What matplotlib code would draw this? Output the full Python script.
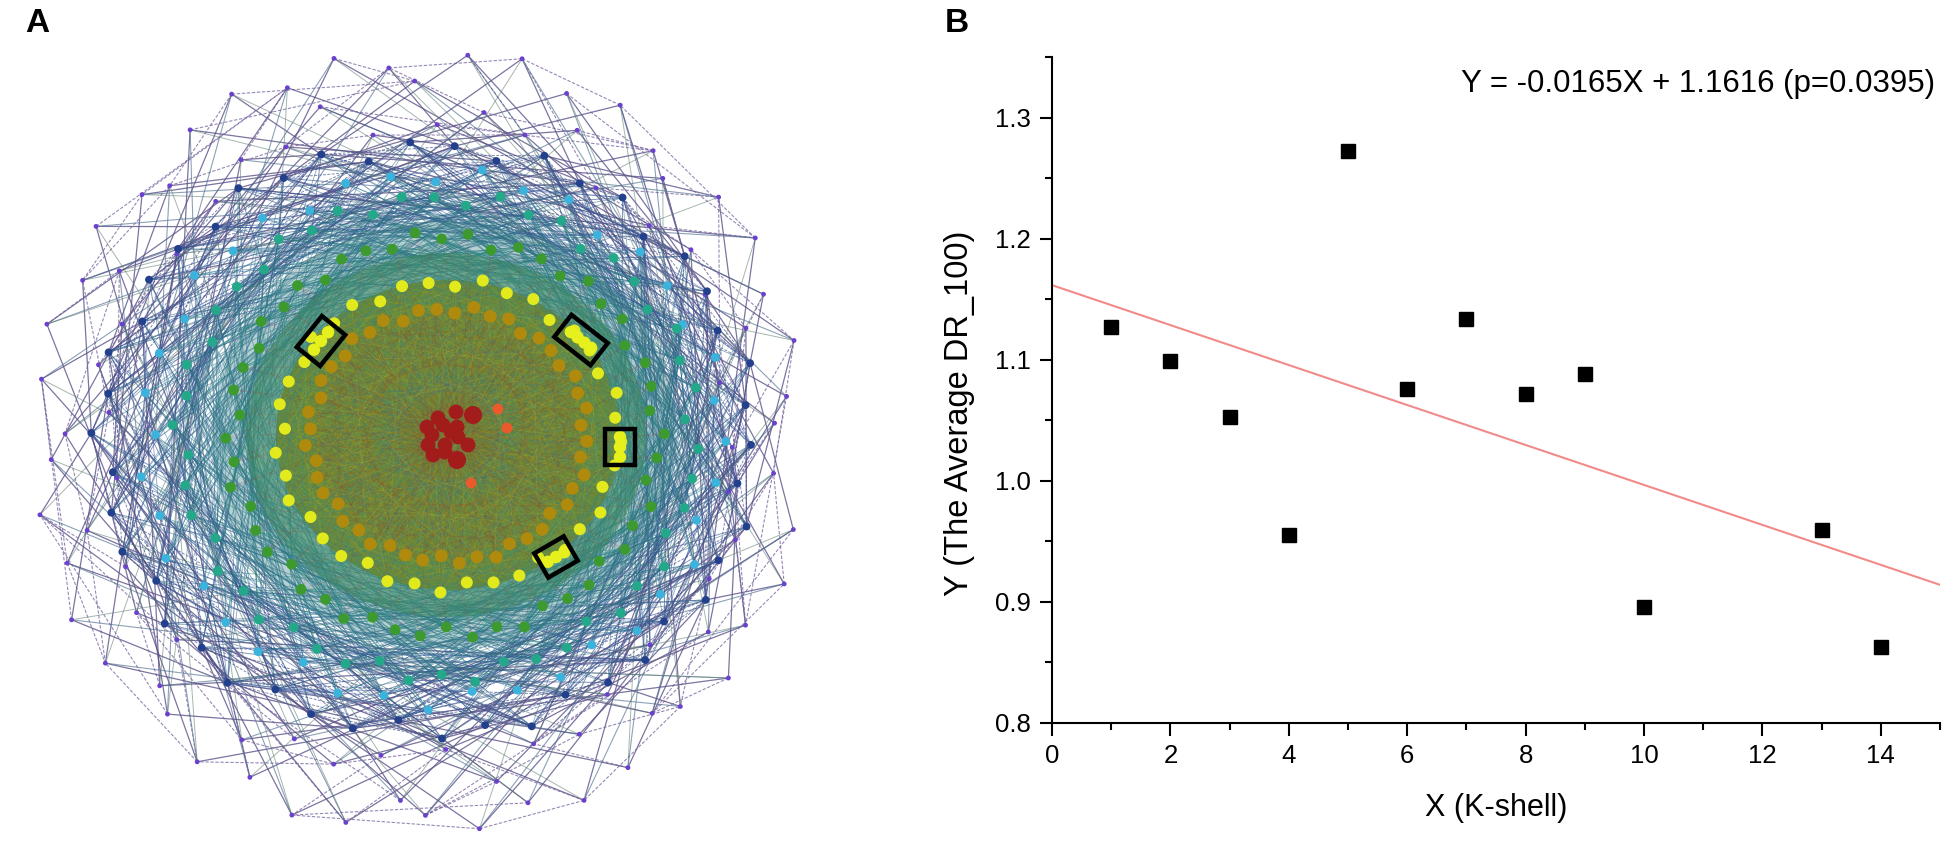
import numpy as np
import matplotlib
matplotlib.use("Agg")
import matplotlib.pyplot as plt
from matplotlib.collections import LineCollection
from matplotlib.patches import Ellipse, Polygon

plt.rcParams["font.family"] = ["Liberation Sans", "DejaVu Sans"]

# ---------------- panel B data ----------------
k_shell = [1, 2, 3, 4, 5, 6, 7, 8, 9, 10, 13, 14]
avg_dr = [1.127, 1.099, 1.053, 0.955, 1.272, 1.076, 1.134, 1.072, 1.088, 0.896, 0.959, 0.863]
slope = -0.0165
intercept = 1.1616
fit_label = "Y = -0.0165X + 1.1616 (p=0.0395)"

# ---------------- panel A data (k-shell layout) ----------------
shell_names = ["olive", "yellow", "green", "teal", "cyan", "navy", "purple"]
shell_count = [48, 40, 52, 50, 40, 46, 90]
shell_colors = ["#b08a0c", "#e2ea1e", "#3c9a2e", "#24a88a", "#3ab4dc", "#22408c", "#6a40cc"]
core_x = [456, 473, 427, 443, 457, 432, 458, 428, 445, 468, 433, 445, 457, 438, 451]
core_y = [412, 415, 427, 425, 427, 435, 437, 445, 445, 445, 455, 452, 460, 418, 432]
orange_x = [498, 507, 471]
orange_y = [409, 428, 483]

# layout (pixels inside the left panel)
CX, CY = 448, 435
shell_cx = [448, 448, 444, 438, 432, 426, 420]
shell_cy = [435, 435, 436, 437, 438, 439, 441]
shell_rx = [139, 170, 214, 258, 288, 325, 355]
shell_ry = [126, 153, 199, 240, 264, 294, 360]
shell_phase = [0.05, 0.2, 0.11, 0.3, 0.17, 0.02, 0.09]
shell_size = [85, 75, 60, 50, 40, 32, 12]
wobble_in = [1.0, 0.97, 1.03, 0.99, 1.02, 0.96, 1.01]
wobble_out = [1.0, 0.88, 1.08, 0.93, 1.1, 0.9, 1.05, 0.97, 1.09, 0.86, 1.04]

# highlighted groups: centre x, centre y, long side, short side, angle (deg, screen)
boxes = [(321, 341, 40, 30, -51), (581, 340, 46, 28, 38), (620, 447, 36, 30, 90), (556, 557, 34, 28, -30)]
box_nodes = [3, 4, 3, 3]


def ring_xy(k):
    n = shell_count[k]
    t = 2 * np.pi * np.arange(n) / n + shell_phase[k]
    w = np.resize(wobble_out if shell_names[k] == "purple" else wobble_in, n)
    return shell_cx[k] + shell_rx[k] * w * np.cos(t), shell_cy[k] + shell_ry[k] * w * np.sin(t)


pos = {name: ring_xy(k) for k, name in enumerate(shell_names)}


def links(a, b, offsets, take):
    xa, ya = pos[a]
    xb, yb = pos[b]
    na, nb = len(xa), len(xb)
    segs = []
    for i in range(na):
        j = int(round(i * nb / na))
        for m in range(take):
            o = offsets[(i + m) % len(offsets)]
            jj = (j + o) % nb
            if a == b and jj == i:
                continue
            segs.append([(xa[i], ya[i]), (xb[jj], yb[jj])])
    return segs


fig = plt.figure(figsize=(19.5, 8.43), dpi=100)

# ================= panel A =================
ax = fig.add_axes([0, 0, 820 / 1950, 1])
ax.set_xlim(0, 820)
ax.set_ylim(843, 0)
ax.axis("off")

outer_specs = [
    ("purple", "navy", [-7, 5, -3, 9, -11, 2], 2, "#5a5288", 0.8, 0.9, "-"),
    ("purple", "purple", [5, -7, 9, 3, -4], 1, "#73609c", 0.75, 0.8, (0, (3, 1.5))),
    ("purple", "cyan", [8, -10, 3, -5], 1, "#4f7090", 0.65, 0.8, "-"),
    ("purple", "teal", [6, -4, 9], 1, "#5c7a6e", 0.55, 0.7, "-"),
    ("navy", "teal", [-9, 6, 12, -4, 3], 4, "#30508a", 0.6, 0.7, "-"),
    ("navy", "navy", [5, -8, 11, -3], 2, "#3a4c88", 0.65, 0.7, (0, (3, 1.5))),
    ("navy", "green", [-7, 10, 4, -13], 3, "#2c6488", 0.55, 0.6, "-"),
    ("cyan", "green", [-10, 7, 13, -5, 4], 4, "#2a7a92", 0.55, 0.6, "-"),
    ("teal", "green", [-8, 11, 5, -12, 3], 4, "#25857a", 0.55, 0.6, "-"),
    ("teal", "teal", [7, -9, 4, 12], 3, "#2a6a86", 0.55, 0.6, "-"),
    ("cyan", "navy", [6, -9, 3], 2, "#3558a0", 0.55, 0.6, "-"),
    ("cyan", "teal", [9, -6, 14, -11], 3, "#2f7090", 0.5, 0.6, "-"),
    ("green", "green", [9, -12, 15], 2, "#2e8a6a", 0.5, 0.6, "-"),
]
for a, b, offs, take, col, alp, lw, ls in outer_specs:
    ax.add_collection(LineCollection(links(a, b, offs, take), colors=col, alpha=alp,
                                     linewidths=lw, linestyles=ls, zorder=1))

# dense core mesh
ax.add_patch(Ellipse((CX - 4, CY), 2 * 232, 2 * 214, color="#2f7a82", alpha=0.35, lw=0, zorder=2))
ax.add_patch(Ellipse((CX - 2, CY), 2 * 200, 2 * 182, color="#3f8a62", alpha=0.6, lw=0, zorder=2))
ax.add_patch(Ellipse((CX, CY), 2 * 172, 2 * 155, color="#6f8a2e", alpha=0.92, lw=0, zorder=2))

inner_specs = [
    ("olive", "yellow", [20, -17, 14, -22, 9, 3, -8], 7, "#2a8a80", 0.25),
    ("olive", "olive", [24, -19, 15, 11, -6, 6], 5, "#a89018", 0.25),
    ("yellow", "green", [26, -21, 18, -30, 7, -9], 5, "#3a70a0", 0.22),
    ("green", "olive", [22, -25, 17, -12], 3, "#9a3a2c", 0.22),
    ("yellow", "yellow", [16, -13, 19, -7], 3, "#c8c424", 0.2),
    ("green", "yellow", [5, -6, 8, -3], 3, "#2a8a8e", 0.35),
]
for a, b, offs, take, col, alp in inner_specs:
    ax.add_collection(LineCollection(links(a, b, offs, take), colors=col, alpha=alp,
                                     linewidths=0.5, zorder=3))
ox, oy = pos["olive"]
spokes = [[(core_x[c], core_y[c]), (ox[i], oy[i])] for c in range(len(core_x))
          for i in range(c % 3, len(ox), 3)]
ax.add_collection(LineCollection(spokes, colors="#8a6a2a", alpha=0.2, linewidths=0.5, zorder=3))

for k, name in reversed(list(enumerate(shell_names))):
    x, y = pos[name]
    ax.scatter(x, y, s=shell_size[k], color=shell_colors[k], edgecolors="none", zorder=5)

ax.scatter(orange_x, orange_y, s=60, color="#ec5a2c", edgecolors="none", zorder=6)
ax.scatter(core_x, core_y, s=[170 if i in (1, 12) else 115 for i in range(len(core_x))],
           color="#a31c1c", edgecolors="none", zorder=6)

for (bx, by, bl, bs, ang), nn in zip(boxes, box_nodes):
    t = np.deg2rad(ang)
    u = np.array([np.cos(t), np.sin(t)])
    v = np.array([-np.sin(t), np.cos(t)])
    c = np.array([bx, by])
    corners = [c + sl * bl / 2 * u + ss * bs / 2 * v for sl, ss in [(-1, -1), (1, -1), (1, 1), (-1, 1)]]
    ax.add_patch(Polygon(corners, closed=True, fill=False, ec="black", lw=3.2, zorder=8))
    for q in np.linspace(-0.28, 0.28, nn):
        p = c + q * bl * u
        ax.scatter(p[0], p[1], s=80, color="#e6f01c", edgecolors="none", zorder=7)

fig.text(25 / 1950, 1 - 24 / 843, "A", fontsize=24, fontweight="bold", ha="left", va="center")

# ================= panel B =================
axb = fig.add_axes([1052 / 1950, 1 - 723 / 843, 888 / 1950, 666 / 843])
axb.plot(k_shell, avg_dr, "s", color="black", ms=9.5, zorder=3)
fit_x = np.array([0, 15])
axb.plot(fit_x, intercept + slope * fit_x, color="#f28a8a", lw=1.5, zorder=2)

axb.set_xlim(0, 15)
axb.set_ylim(0.8, 1.35)
axb.set_xticks(range(0, 15, 2))
axb.set_xticks(range(0, 16), minor=True)
axb.set_yticks([0.8, 0.9, 1.0, 1.1, 1.2, 1.3])
axb.set_yticks(np.arange(0.8, 1.351, 0.05), minor=True)
axb.yaxis.set_major_formatter(plt.FormatStrFormatter("%.1f"))
axb.tick_params(which="major", direction="out", length=9, width=1.5, labelsize=18.5, pad=6)
axb.tick_params(which="minor", direction="out", length=5, width=1.5)
for s in ("top", "right"):
    axb.spines[s].set_visible(False)
for s in ("left", "bottom"):
    axb.spines[s].set_linewidth(1.5)

axb.set_xlabel("X (K-shell)", fontsize=22)
axb.set_ylabel("Y (The Average DR_100)", fontsize=23.5)
axb.xaxis.set_label_coords(0.5, -0.105)
axb.yaxis.set_label_coords(-0.087, 0.465)
axb.text(0.995, 0.96, fit_label, transform=axb.transAxes, fontsize=22.5, ha="right", va="center")

fig.text(945 / 1950, 1 - 24 / 843, "B", fontsize=24, fontweight="bold", ha="left", va="center")

fig.savefig("out.png", dpi=100, facecolor="white")
